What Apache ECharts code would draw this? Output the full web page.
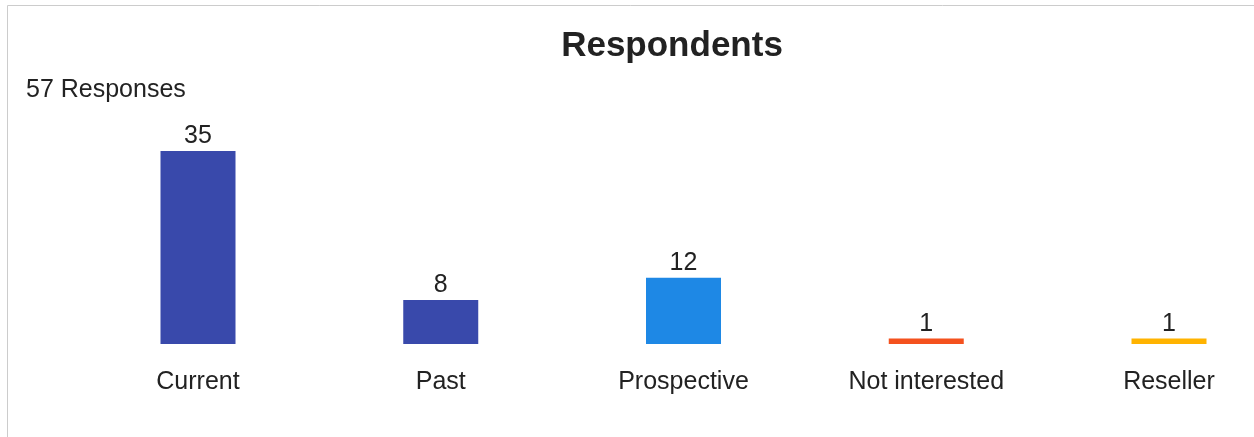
<!DOCTYPE html>
<html>
<head>
<meta charset="utf-8">
<title>Respondents</title>
<script src="https://cdn.jsdelivr.net/npm/echarts@6/dist/echarts.min.js"></script>
<style>
  html, body { margin: 0; padding: 0; background: #fff; }
  #chart { width: 1254px; height: 437px; }
</style>
</head>
<body>
<div id="chart"></div>
<script>
// Survey answers
const categories = ['Current', 'Past', 'Prospective', 'Not interested', 'Reseller'];
const counts = [35, 8, 12, 1, 1];
const totalResponses = 57;
const barColors = ['#3949AB', '#3949AB', '#1E88E5', '#F4511E', '#FFB300'];

const FONT = '"Liberation Sans", Arial, Helvetica, sans-serif';

const chart = echarts.init(document.getElementById('chart'), null, { renderer: 'canvas' });

chart.setOption({
  backgroundColor: '#ffffff',
  animation: false,
  title: [
    {
      text: 'Respondents',
      left: 667,
      textAlign: 'center',
      top: 24,
      textStyle: { fontFamily: FONT, fontSize: 35, fontWeight: 'bold', color: '#222222' }
    },
    {
      text: totalResponses + ' Responses',
      left: 21,
      top: 73,
      textStyle: { fontFamily: FONT, fontSize: 25, fontWeight: 'normal', color: '#222222' }
    }
  ],
  graphic: [
    // card frame: top and left edges
    { type: 'line', shape: { x1: 7.5, y1: 5.5, x2: 1254, y2: 5.5 }, style: { stroke: '#cccccc', lineWidth: 1 }, silent: true },
    { type: 'line', shape: { x1: 7.5, y1: 5.5, x2: 7.5, y2: 437 }, style: { stroke: '#cccccc', lineWidth: 1 }, silent: true }
  ],
  grid: { left: 198, right: 85, top: 151, bottom: 93, containLabel: false },
  xAxis: {
    type: 'category',
    data: categories,
    boundaryGap: false,
    axisLine: { show: false },
    axisTick: { show: false },
    splitLine: { show: false },
    axisLabel: { fontFamily: FONT, fontSize: 25, color: '#222222', margin: 26, interval: 0 }
  },
  yAxis: {
    type: 'value',
    min: 0,
    max: 35,
    show: false
  },
  series: [{
    type: 'bar',
    barWidth: 75,
    data: counts.map((v, i) => ({ value: v, itemStyle: { color: barColors[i] } })),
    label: {
      show: true,
      position: 'top',
      distance: 2,
      fontFamily: FONT,
      fontSize: 25,
      color: '#222222'
    }
  }]
});
</script>
</body>
</html>
